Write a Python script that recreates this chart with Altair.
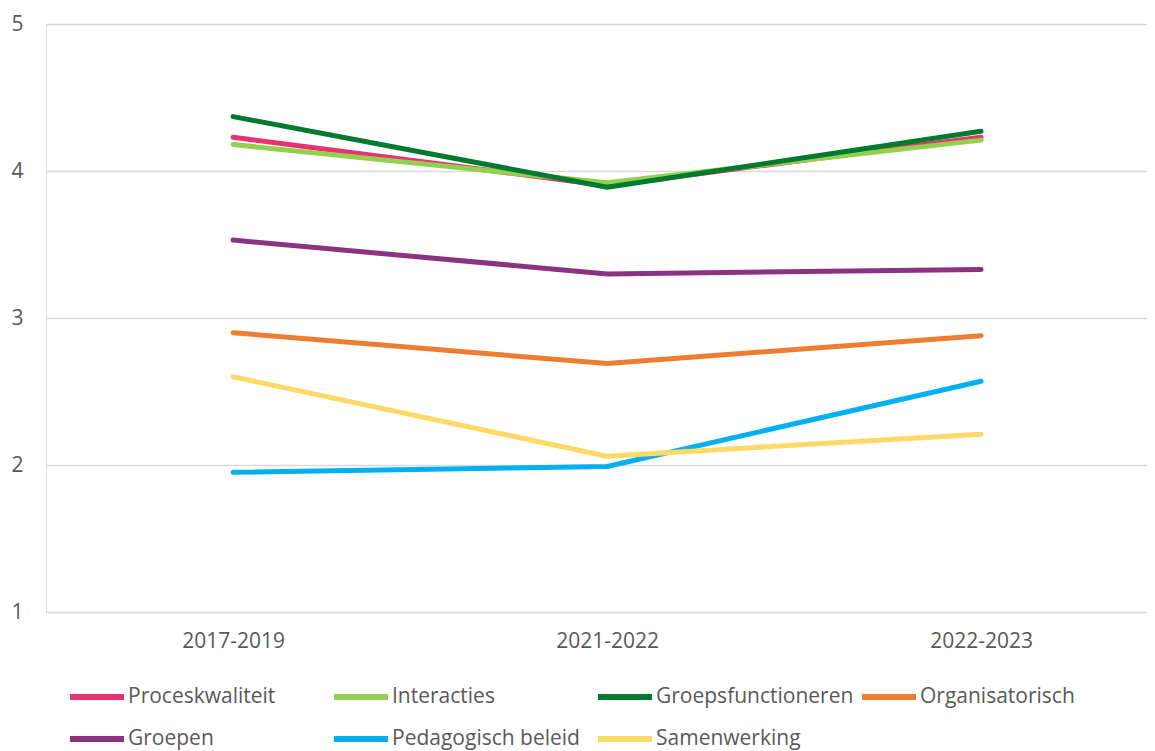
import altair as alt
import pandas as pd

categories = ["2017-2019", "2021-2022", "2022-2023"]
series_names = ["Proceskwaliteit", "Interacties", "Groepsfunctioneren", "Organisatorisch",
                "Groepen", "Pedagogisch beleid", "Samenwerking"]
proceskwaliteit = [4.23, 3.90, 4.23]
interacties = [4.18, 3.92, 4.21]
groepsfunctioneren = [4.37, 3.89, 4.27]
organisatorisch = [2.90, 2.69, 2.88]
groepen = [3.53, 3.30, 3.33]
pedagogisch_beleid = [1.95, 1.99, 2.57]
samenwerking = [2.60, 2.06, 2.21]
colors = ["#E8336E", "#92D050", "#007A2F", "#ED7D31", "#8B3282", "#00B0F0", "#FFD966"]

values = [proceskwaliteit, interacties, groepsfunctioneren, organisatorisch,
          groepen, pedagogisch_beleid, samenwerking]
rows = []
for name, vals in zip(series_names, values):
    for cat, v in zip(categories, vals):
        rows.append({"Periode": cat, "Reeks": name, "Score": v})
df = pd.DataFrame(rows)

FONT = "Open Sans"
GREY = "#595959"

chart = alt.Chart(df).mark_line(strokeWidth=5, strokeCap="round", strokeJoin="round").encode(
    x=alt.X("Periode:O", sort=categories,
            scale=alt.Scale(type="point", padding=0.472, align=0.53),
            axis=alt.Axis(title=None, labelAngle=0, domain=False, ticks=False, grid=False,
                          labelPadding=18, labelFontSize=21, labelColor=GREY, labelFont=FONT)),
    y=alt.Y("Score:Q", scale=alt.Scale(domain=[1, 5], nice=False, zero=False),
            axis=alt.Axis(title=None, values=[1, 2, 3, 4, 5], domain=False, ticks=False,
                          gridColor="#D9D9D9", gridWidth=1.5, labelPadding=23,
                          labelFontSize=21, labelColor=GREY, labelFont=FONT)),
    color=alt.Color("Reeks:N", sort=series_names,
                    scale=alt.Scale(domain=series_names, range=colors),
                    legend=alt.Legend(title=None, orient="none", legendX=21, legendY=643,
                                      direction="horizontal", padding=0,
                                      columns=4, gridAlign="all", columnPadding=-4,
                                      rowPadding=-13, symbolType="stroke", symbolSize=2916,
                                      symbolStrokeWidth=6, labelOffset=1, labelLimit=400,
                                      labelFontSize=21, labelColor=GREY, labelFont=FONT)),
).properties(
    width=1101, height=588,
    autosize=alt.AutoSizeParams(type="none"),
    padding={"left": 38, "top": 16, "right": 0, "bottom": 139},
).configure_view(stroke=None).configure(font=FONT, background="white")

chart.save("out.html", embed_options={"renderer": "svg", "actions": False})
